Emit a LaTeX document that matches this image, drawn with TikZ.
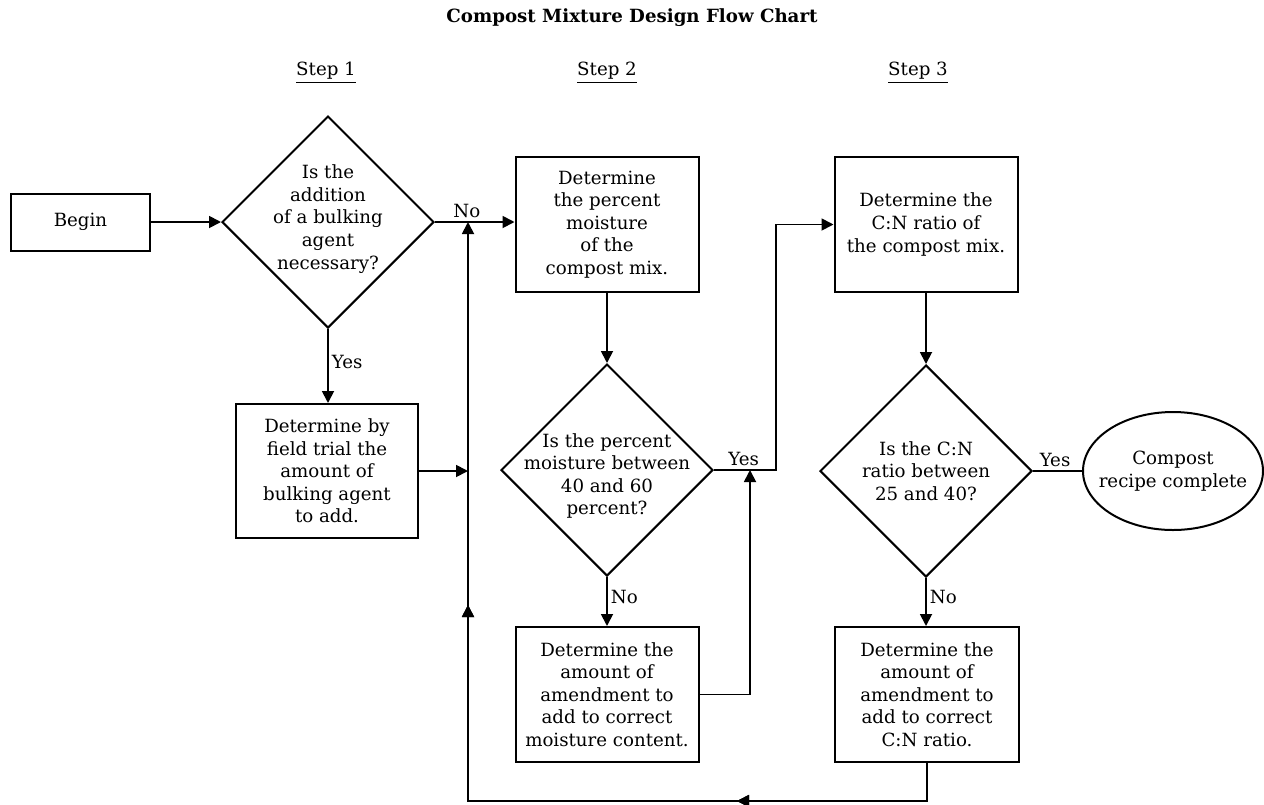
\documentclass[tikz,border=0pt]{standalone}
\usepackage{fontspec}
\setmainfont{DejaVu Serif}
\usetikzlibrary{arrows.meta,calc,positioning,shapes.geometric,decorations.markings}

\begin{document}
\begin{tikzpicture}[
    x=0.5pt,y=-0.5pt,
    every node/.style={font=\fontsize{9.1}{11.3}\selectfont},
    box/.style={draw,line width=1pt,fill=white,align=center,inner sep=2pt,minimum width=91.5pt,minimum height=67.5pt},
    decision/.style={diamond,draw,line width=1pt,inner sep=0pt,minimum width=106pt,minimum height=106pt},
    qtext/.style={align=center,inner sep=0pt},
    terminal/.style={ellipse,draw,line width=1pt,minimum width=90pt,minimum height=59pt,inner sep=0pt},
    steplabel/.style={inner sep=1pt},
    flowlabel/.style={inner sep=1.5pt},
    arrow/.style={-{Triangle[length=6pt,width=6pt]},line width=0.9pt},
    link/.style={line width=0.9pt},
    midarrow/.style={postaction={decorate},decoration={markings,mark=at position #1 with {\arrow{Triangle[length=6pt,width=6pt]}}}}
]
\useasboundingbox (0,0) rectangle (1264,804);

% Title and step headings
\node (title) at (632,18) {\textbf{Compost Mixture Design Flow Chart}};
\node[steplabel] (step1) at (326,73) {\underline{Step 1}};
\node[steplabel] (step2) at (607,73) {\underline{Step 2}};
\node[steplabel] (step3) at (918,73) {\underline{Step 3}};

% Step 1: bulking agent
\node[box,minimum width=69.5pt,minimum height=28.5pt] (begin) at (80.5,222) {Begin};
\node[decision] (bulk) at (328,222) {};
\node[qtext] (bulktxt) at ($(bulk)+(0,-3)$) {Is the\\addition\\of a bulking\\agent\\necessary?};
\node[box,minimum width=91pt,minimum height=67pt] (trial) at (327,471) {Determine by\\field trial the\\amount of\\bulking agent\\to add.};
\coordinate (back) at (468,801);

% Step 2: moisture
\node[box] (moist) at (607,224.5) {Determine\\the percent\\moisture\\of the\\compost mix.};
\node[decision] (moistq) at (607,470) {};
\node[qtext] (moistqtxt) at ($(moistq)+(0,6)$) {Is the percent\\moisture between\\40 and 60\\percent?};
\node[box] (moistfix) at (607,694.5) {Determine the\\amount of\\amendment to\\add to correct\\moisture content.};
\coordinate (jog) at (776,470);
\coordinate (rise) at (750,470);

% Step 3: C:N ratio
\node[box] (cn) at (926,224.5) {Determine the\\C:N ratio of\\the compost mix.};
\node[decision] (cnq) at (926,471) {};
\node[qtext] (cnqtxt) at (cnq) {Is the C:N\\ratio between\\25 and 40?};
\node[box,minimum width=92pt] (cnfix) at (927,694.5) {Determine the\\amount of\\amendment to\\add to correct\\C:N ratio.};
\node[terminal] (done) at (1173,471) {};
\node[qtext] (donetxt) at (done) {Compost\\recipe complete};

% Connectors
\draw[arrow] (begin.east) -- (bulk.west);
\draw[arrow] (bulk.east) -- node[flowlabel,above,pos=0.4] {No} (bulk.east -| moist.west);
\draw[arrow] (bulk.south) -- node[flowlabel,right,pos=0.45] {Yes} (bulk.south |- trial.north);
\draw[arrow] (trial.east) -- (trial.east -| back);
\draw[arrow] (moist.south) -- (moistq.north);
\draw[arrow] (moistq.east) -- node[flowlabel,above,pos=0.48] {Yes} (jog) |- (cn.west);
\draw[arrow] (moistq.south) -- node[flowlabel,right,pos=0.4] {No} (moistfix.north);
\draw[arrow] (moistfix.east) -| (rise);
\draw[arrow] (cn.south) -- (cnq.north);
\draw[link] (cnq.east) -- node[flowlabel,above,pos=0.45] {Yes} (done.west);
\draw[arrow] (cnq.south) -- node[flowlabel,right,pos=0.4] {No} (cnq.south |- cnfix.north);
\draw[arrow,midarrow=114pt,midarrow=346.5pt] (cnfix.south) |- (back) -- (back |- bulk.east);
\end{tikzpicture}
\end{document}
